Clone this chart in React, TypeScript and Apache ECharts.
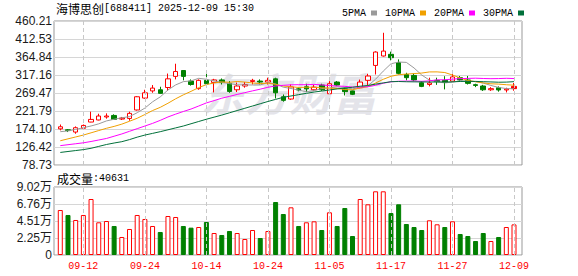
import React, { useEffect, useRef } from 'react';
import * as echarts from 'echarts';

const stockName = '海博思创';
const stockCode = '688411';
const quoteTime = '2025-12-09 15:30';
const volumeTitle = '成交量';
const watermark = '东方财富';

const dates = [
  '09-09', '09-10', '09-11', '09-12', '09-15', '09-16', '09-17', '09-18', '09-19', '09-22',
  '09-23', '09-24', '09-25', '09-26', '09-29', '09-30', '10-09', '10-10', '10-13', '10-14',
  '10-15', '10-16', '10-17', '10-20', '10-21', '10-22', '10-23', '10-24', '10-27', '10-28',
  '10-29', '10-30', '10-31', '11-03', '11-04', '11-05', '11-06', '11-07', '11-10', '11-11',
  '11-12', '11-13', '11-14', '11-17', '11-18', '11-19', '11-20', '11-21', '11-24', '11-25',
  '11-26', '11-27', '11-28', '12-01', '12-02', '12-03', '12-04', '12-05', '12-08', '12-09',
];
const axisLabelDates = ['09-12', '09-24', '10-14', '10-24', '11-05', '11-17', '11-27', '12-09'];

const opens = [
  174.5, 172, 166, 176, 192.5, 198, 206, 210, 200.5, 202,
  224.5, 256, 275, 278, 284, 313.5, 329, 301, 281, 303,
  297.5, 304, 295, 278, 288, 300, 301, 298.5, 307, 259.5,
  253.5, 280.5, 286, 278, 290.5, 267.5, 298.5, 281, 275, 283.5,
  303, 342.5, 367.5, 372, 350, 318.5, 316, 296.5, 292, 303,
  303, 301, 310, 304, 291.5, 288, 278, 283.5, 277.5, 281,
];
const closes = [
  180, 170, 177.5, 183.5, 199.5, 208.5, 208.5, 199.5, 203, 215.5,
  259.5, 270, 282.5, 268.5, 307, 326.5, 313.5, 292, 303, 294,
  304, 297, 273.5, 288, 292, 303, 298.5, 303, 270, 250,
  285.5, 277.5, 280.5, 285, 278, 294, 290.5, 273, 266, 298.5,
  314.5, 378, 380.5, 363, 321.5, 310, 304, 287, 296, 299.5,
  297, 312, 304, 295, 289.5, 278, 281, 277.5, 280, 287,
];
const lows = [
  170.5, 166, 161.5, 174, 192, 197, 201.5, 198, 198, 196,
  223, 254, 270, 268, 275, 305.5, 303, 289, 278, 289.5,
  271, 292, 270, 272, 283.5, 292, 292, 292, 255, 246.5,
  251.5, 274, 272, 275, 275, 266, 288, 263, 264, 282,
  290.5, 318.5, 366, 356, 318.5, 303, 301, 285, 287, 291,
  279, 299, 301, 292, 285, 275, 275, 273, 271, 275.5,
];
const highs = [
  186, 174, 181, 186, 220, 214.5, 215.5, 213, 206, 220,
  261, 278, 290.5, 286, 321, 347, 330, 305.5, 305.5, 327.5,
  307, 308, 301, 297, 298.5, 307, 305.5, 310, 310, 265.5,
  292, 284, 294, 290.5, 294, 301, 301, 285, 276, 305,
  320.5, 380, 429, 379, 358.5, 323, 321.5, 301, 310, 310,
  314, 323, 314.5, 314.5, 294, 291, 285, 287, 283.5, 296,
];
const volumes = [
  59690, 53060, 46430, 53060, 74280, 43370, 45100, 38470, 23880, 34490,
  53060, 47750, 38470, 30510, 51730, 50410, 38470, 36250, 37140, 43770,
  29180, 26530, 31840, 29180, 21220, 33160, 22550, 31840, 70300, 54380,
  63250, 38470, 43370, 44670, 33160, 56630, 38470, 62340, 25200, 74280,
  67250, 84490, 84490, 55710, 67250, 41120, 37140, 33160, 46030, 40720,
  37140, 44670, 27850, 25200, 18570, 29180, 18570, 23880, 37140, 40631,
];
const ma5 = [
  167, 169, 173, 177.5, 182.1, 187.8, 195.5, 199.9, 203.8, 207,
  217.2, 229.5, 246.1, 259.2, 277.5, 290.9, 299.6, 301.5, 308.4, 305.8,
  301.3, 298, 294.3, 291.3, 290.9, 290.7, 291, 296.9, 293.3, 284.9,
  281.4, 277.2, 272.7, 275.7, 281.3, 283, 285.6, 284.1, 280.3, 284.4,
  288.5, 306, 327.5, 346.9, 351.5, 350.6, 335.8, 317.1, 303.7, 299.3,
  296.7, 298.3, 301.7, 301.5, 299.5, 295.7, 289.5, 284.2, 281.2, 280.7,
];
const ma10 = [
  143, 148, 153, 158, 164, 170, 176, 181, 187, 194.6,
  202.5, 212.5, 223, 231.5, 242.3, 254.1, 264.6, 273.8, 283.8, 291.7,
  296.1, 298.8, 297.9, 299.9, 298.4, 296, 294.5, 295.6, 292.3, 287.9,
  286.1, 284.1, 284.8, 284.5, 283.2, 282.3, 281.5, 278.5, 278.1, 282.9,
  285.8, 295.9, 305.8, 313.6, 318, 319.6, 320.9, 322.3, 325.3, 325.4,
  323.7, 317.1, 309.4, 302.6, 299.4, 296.2, 293.9, 293, 291.4, 290.1,
];
const ma20 = [
  130, 132.5, 135, 137.5, 141, 145, 149, 155, 161, 168,
  175, 182, 189, 197, 206, 213.5, 220.5, 227, 235, 243.2,
  249.3, 255.7, 260.5, 265.7, 270.4, 275.1, 279.6, 284.7, 288.1, 289.8,
  291.1, 291.5, 291.4, 292.3, 290.8, 289.2, 288, 287.1, 285.2, 285.4,
  286, 290, 295.4, 299.1, 300.6, 301, 301.2, 300.4, 301.7, 304.2,
  304.5, 306.2, 307.6, 308.1, 308.7, 307.9, 307.4, 307.7, 308.4, 307.8,
];
const ma30 = [
  112, 114.5, 117, 119.5, 123, 128, 133, 137, 140.5, 146,
  152.5, 158, 162.5, 167, 172, 177, 182, 188, 194, 200,
  205.5, 211, 217, 223, 229, 235, 241, 247, 252.5, 258.1,
  261.6, 265.1, 268.6, 272, 274.6, 277.5, 280.2, 282.6, 284.7, 287.5,
  289.3, 292.9, 296.2, 299.4, 299.9, 299.3, 299, 298.8, 298.6, 298.7,
  298.5, 299, 300, 300.3, 300.2, 299.4, 298.8, 298, 298.3, 299.5,
];

const priceTicks = ['78.73', '126.42', '174.10', '221.79', '269.47', '317.16', '364.84', '412.53', '460.21'];
const volumeTicks = ['0', '2.25万', '4.51万', '6.76万', '9.02万'];
const priceMin = 78.73;
const priceMax = 460.21;
const volumeMax = 90200;

const maNames = ['5PMA', '10PMA', '20PMA', '30PMA'];

const RED = '#ff0000';
const GREEN = '#008000';
const MA_COLORS = ['#9a9a9a', '#f0a000', '#ff00ff', '#00703a'];

export default function App() {
  const ref = useRef<HTMLDivElement>(null);

  useEffect(() => {
    if (!ref.current) return;
    const chart = echarts.init(ref.current, null, { renderer: 'svg' });

    const lastIdx = dates.length - 1;
    const candleData = dates.map((_, i) => {
      const value = [opens[i], closes[i], lows[i], highs[i]];
      if (i === lastIdx) {
        return { value, itemStyle: { color: RED, borderColor: RED } };
      }
      return value;
    });

    const volumeData = volumes.map((v, i) => {
      const up = i === 0 ? true : closes[i] >= closes[i - 1];
      return {
        value: v,
        itemStyle: up
          ? { color: '#ffffff', borderColor: RED, borderWidth: 1 }
          : { color: GREEN, borderColor: GREEN, borderWidth: 1 },
      };
    });

    const markLineCommon = {
      silent: true,
      symbol: ['none', 'none'],
      label: { show: false },
      lineStyle: { color: '#c8c8c8', type: [4, 3], width: 1 },
      data: axisLabelDates.map((d) => ({ xAxis: d })),
    };

    const maSeries = [ma5, ma10, ma20, ma30].map((arr, k) => ({
      name: maNames[k],
      type: 'line',
      xAxisIndex: 0,
      yAxisIndex: 0,
      data: arr,
      showSymbol: false,
      symbol: 'none',
      color: MA_COLORS[k],
      lineStyle: { color: MA_COLORS[k], width: 1 },
      itemStyle: { color: MA_COLORS[k] },
      z: 3 + k,
    }));

    const labelFont = '"Liberation Sans", "Noto Sans CJK SC", sans-serif';

    const option: any = {
      animation: false,
      backgroundColor: '#ffffff',
      legend: {
        data: maNames,
        left: 337,
        top: 3,
        align: 'right',
        icon: 'rect',
        itemWidth: 6,
        itemHeight: 5,
        itemGap: 8,
        selectedMode: false,
        textStyle: { fontFamily: '"Liberation Mono", monospace', fontSize: 10, color: '#000' },
      },
      graphic: [
        {
          type: 'text',
          x: 289,
          y: 92,
          z: 0,
          silent: true,
          style: {
            text: watermark,
            fill: '#e4e4ea',
            font: 'italic bold 44px "Noto Sans CJK SC"',
            textAlign: 'center',
            textVerticalAlign: 'middle',
          },
        },
        {
          type: 'text',
          x: 56,
          y: 8,
          style: {
            text: stockName,
            fill: '#000',
            font: '12px "Noto Sans CJK SC"',
            textVerticalAlign: 'middle',
          },
        },
        {
          type: 'text',
          x: 104,
          y: 8,
          style: {
            text: `[${stockCode}] ${quoteTime}`,
            fill: '#000',
            font: '10px "Liberation Mono"',
            textVerticalAlign: 'middle',
          },
        },
        {
          type: 'text',
          x: 57,
          y: 178,
          style: {
            text: volumeTitle,
            fill: '#000',
            font: '12px "Noto Sans CJK SC"',
            textVerticalAlign: 'middle',
          },
        },
        {
          type: 'text',
          x: 93,
          y: 178,
          style: {
            text: `:${volumes[lastIdx]}`,
            fill: '#000',
            font: '10px "Liberation Mono"',
            textVerticalAlign: 'middle',
          },
        },
      ],
      grid: [
        { left: 56.45, top: 21, width: 461.4, height: 144 },
        { left: 54, top: 21, width: 468, height: 144, show: true, borderColor: '#999', borderWidth: 1, backgroundColor: 'transparent' },
        { left: 56.45, top: 187, width: 461.4, height: 68 },
        { left: 54, top: 187, width: 468, height: 68, show: true, borderColor: '#999', borderWidth: 1, backgroundColor: 'transparent' },
      ],
      xAxis: [
        { type: 'category', gridIndex: 0, data: dates, show: false },
        { type: 'value', gridIndex: 1, min: 0, max: 1, show: false },
        {
          type: 'category',
          gridIndex: 2,
          data: dates,
          axisLine: { show: false },
          axisTick: { show: false },
          splitLine: { show: false },
          axisLabel: {
            interval: (_i: number, v: string) => axisLabelDates.includes(v),
            color: RED,
            fontFamily: '"Liberation Mono", monospace',
            fontSize: 10,
            margin: 6,
          },
        },
        { type: 'value', gridIndex: 3, min: 0, max: 1, show: false },
      ],
      yAxis: [
        { type: 'value', gridIndex: 0, min: priceMin, max: priceMax, show: false },
        {
          type: 'value',
          gridIndex: 1,
          min: 0,
          max: priceTicks.length - 1,
          interval: 1,
          axisLine: { show: false },
          axisTick: { show: false },
          splitLine: { show: true, lineStyle: { color: '#d6d6d6', width: 1 } },
          axisLabel: {
            formatter: (v: number) => priceTicks[Math.round(v)],
            color: '#1a1a1a',
            fontFamily: labelFont,
            fontSize: 12,
            margin: 2,
          },
        },
        { type: 'value', gridIndex: 2, min: 0, max: volumeMax, show: false },
        {
          type: 'value',
          gridIndex: 3,
          min: 0,
          max: volumeTicks.length - 1,
          interval: 1,
          axisLine: { show: false },
          axisTick: { show: false },
          splitLine: { show: true, lineStyle: { color: '#d6d6d6', width: 1 } },
          axisLabel: {
            formatter: (v: number) => volumeTicks[Math.round(v)],
            color: '#1a1a1a',
            fontFamily: labelFont,
            fontSize: 12,
            margin: 2,
          },
        },
      ],
      series: [
        {
          name: 'K',
          type: 'candlestick',
          xAxisIndex: 0,
          yAxisIndex: 0,
          data: candleData,
          barWidth: 5,
          itemStyle: {
            color: '#ffffff',
            color0: GREEN,
            borderColor: RED,
            borderColor0: GREEN,
            borderWidth: 1,
          },
          markLine: markLineCommon,
          z: 2,
        },
        ...maSeries,
        {
          name: 'VOL',
          type: 'bar',
          xAxisIndex: 2,
          yAxisIndex: 2,
          data: volumeData,
          barWidth: 5,
          markLine: markLineCommon,
        },
      ],
    };

    chart.setOption(option);
    return () => chart.dispose();
  }, []);

  return (
    <div
      ref={ref}
      style={{ position: 'absolute', left: 0, top: 0, width: 578, height: 276, background: '#fff' }}
    />
  );
}
